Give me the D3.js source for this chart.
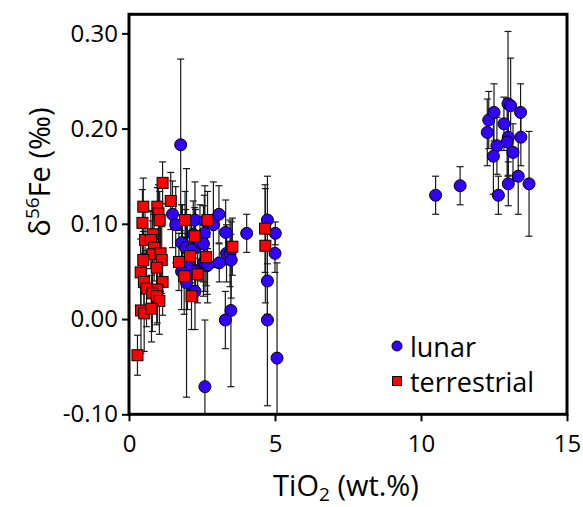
<!DOCTYPE html>
<html>
<head>
<meta charset="utf-8">
<script src="https://cdn.jsdelivr.net/npm/d3@7"></script>
<style>
  body { margin: 0; background: #fff; }
  text { font-family: "Open Sans", sans-serif; fill: #000; }
</style>
</head>
<body>
<script>
// lunar samples: TiO2 (wt.%), d56Fe, 2sd
var lunarTi = [10.5, 11.34, 12.65, 12.99, 13.33, 13.7, 12.27, 12.32, 12.5, 12.6, 12.48, 12.84, 12.98, 13.07, 12.99, 12.95, 13.15, 13.41, 13.42,
  1.77, 1.49, 1.6, 2.26, 2.6, 1.83, 2.2, 2.58, 2.28, 2.89, 3.08, 3.31, 4.03, 4.74, 5.01, 5.0, 2.43, 3.34, 3.46, 3.09, 3.5, 2.68, 2.55,
  4.74, 3.49, 3.3, 4.74, 5.07, 2.6, 1.8, 1.94, 2.14, 2.55, 1.8, 2.0, 2.26, 1.97, 2.26, 2.6, 2.69];
var lunarFe = [0.130, 0.140, 0.130, 0.142, 0.150, 0.142, 0.196, 0.209, 0.217, 0.182, 0.171, 0.205, 0.226, 0.224, 0.191, 0.186, 0.175, 0.217, 0.191,
  0.183, 0.110, 0.099, 0.104, 0.103, 0.080, 0.089, 0.090, 0.075, 0.099, 0.110, 0.091, 0.090, 0.104, 0.090, 0.069, 0.080, 0.069, 0.069, 0.059, 0.062, 0.056, 0.059,
  0.040, 0.009, -0.001, -0.001, -0.041, -0.071, 0.080, 0.075, 0.073, 0.079, 0.050, 0.055, 0.050, 0.038, 0.029, 0.059, 0.057];
var lunarErr = [0.020, 0.020, 0.020, 0.023, 0.040, 0.055, 0.035, 0.030, 0.030, 0.030, 0.040, 0.028, 0.076, 0.050, 0.040, 0.045, 0.030, 0.030, 0.030,
  0.090, 0.035, 0.040, 0.040, 0.037, 0.040, 0.035, 0.040, 0.040, 0.045, 0.030, 0.034, 0.020, 0.046, 0.012, 0.020, 0.040, 0.030, 0.035, 0.020, 0.040, 0.030, 0.035,
  0.035, 0.080, 0.030, 0.090, 0.100, 0.070, 0.040, 0.040, 0.035, 0.040, 0.040, 0.045, 0.030, 0.120, 0.040, 0.030, 0.040];

// terrestrial samples
var terrTi = [0.49, 0.46, 0.55, 0.81, 0.75, 0.97, 1.01, 1.05, 1.15, 1.43, 1.92, 2.25, 2.69, 0.86, 4.66, 3.54, 4.67, 2.64,
  0.8, 1.08, 1.12, 0.49, 0.95, 0.4, 0.51, 1.15, 0.6, 0.97, 0.8, 0.95, 1.04, 0.41, 0.52, 0.77, 0.29, 1.71, 2.09, 1.89, 2.35, 2.14];
var terrFe = [0.118, 0.101, 0.083, 0.089, 0.083, 0.118, 0.111, 0.104, 0.143, 0.124, 0.104, 0.087, 0.104, 0.075, 0.095, 0.076, 0.077, 0.065,
  0.068, 0.069, 0.062, 0.062, 0.054, 0.049, 0.039, 0.039, 0.032, 0.031, 0.027, 0.024, 0.019, 0.009, 0.006, 0.011, -0.038, 0.060, 0.066, 0.045, 0.047, 0.024];
var terrErr = [0.030, 0.035, 0.030, 0.025, 0.030, 0.020, 0.030, 0.030, 0.022, 0.030, 0.030, 0.030, 0.030, 0.035, 0.046, 0.030, 0.060, 0.030,
  0.035, 0.040, 0.035, 0.030, 0.035, 0.035, 0.030, 0.035, 0.040, 0.035, 0.040, 0.030, 0.035, 0.045, 0.040, 0.035, 0.021, 0.030, 0.035, 0.040, 0.030, 0.035];

var xTicks = [0, 5, 10, 15];
var yTicks = [-0.10, 0.00, 0.10, 0.20, 0.30];

var lunar = lunarTi.map(function(d, i) { return { x: d, y: lunarFe[i], e: lunarErr[i] } });
var terr = terrTi.map(function(d, i) { return { x: d, y: terrFe[i], e: terrErr[i] } });

var svg = d3.select("body").append("svg")
  .attr("width", 583)
  .attr("height", 507);

var x = d3.scaleLinear().domain([0, 15]).range([129, 567]);
var y = d3.scaleLinear().domain([-0.10, 0.32]).range([414.3, 14.3]);

// error bars first, markers on top
var all = lunar.concat(terr);
var bars = svg.append("g").attr("stroke", "#1a1a1a").attr("stroke-width", 1.2);
bars.selectAll("line.v").data(all).enter().append("line")
  .attr("x1", function(d) { return x(d.x) }).attr("x2", function(d) { return x(d.x) })
  .attr("y1", function(d) { return Math.max(y(d.y + d.e), y.range()[1]) })
  .attr("y2", function(d) { return Math.min(y(d.y - d.e), y.range()[0]) });
bars.selectAll("line.t").data(all.filter(function(d) { return d.y + d.e < 0.32 })).enter().append("line")
  .attr("x1", function(d) { return x(d.x) - 3.5 }).attr("x2", function(d) { return x(d.x) + 3.5 })
  .attr("y1", function(d) { return y(d.y + d.e) }).attr("y2", function(d) { return y(d.y + d.e) });
bars.selectAll("line.b").data(all.filter(function(d) { return d.y - d.e > -0.10 })).enter().append("line")
  .attr("x1", function(d) { return x(d.x) - 3.5 }).attr("x2", function(d) { return x(d.x) + 3.5 })
  .attr("y1", function(d) { return y(d.y - d.e) }).attr("y2", function(d) { return y(d.y - d.e) });

svg.append("g").selectAll("circle").data(lunar).enter().append("circle")
  .attr("cx", function(d) { return x(d.x) })
  .attr("cy", function(d) { return y(d.y) })
  .attr("r", 6)
  .style("fill", "#3300ff")
  .style("stroke", "#000")
  .style("stroke-width", 1);

svg.append("g").selectAll("rect").data(terr).enter().append("rect")
  .attr("x", function(d) { return x(d.x) - 5.5 })
  .attr("y", function(d) { return y(d.y) - 5.5 })
  .attr("width", 11).attr("height", 11)
  .style("fill", "#ff0000")
  .style("stroke", "#000")
  .style("stroke-width", 1);

// frame
svg.append("rect")
  .attr("x", x(0)).attr("y", y(0.32))
  .attr("width", x(15) - x(0)).attr("height", y(-0.10) - y(0.32))
  .attr("fill", "none").attr("stroke", "#000").attr("stroke-width", 3);

var xAxis = svg.append("g").attr("transform", "translate(0," + y(-0.10) + ")")
  .call(d3.axisBottom(x).tickValues(xTicks).tickSize(7).tickPadding(14).tickFormat(d3.format("d")));
var yAxis = svg.append("g").attr("transform", "translate(" + x(0) + ",0)")
  .call(d3.axisLeft(y).tickValues(yTicks).tickSize(7).tickPadding(4)
    .tickFormat(function(d) { return d.toFixed(2).replace("−", "-") }));
[xAxis, yAxis].forEach(function(a) {
  a.select(".domain").remove();
  a.selectAll(".tick line").attr("stroke", "#000").attr("stroke-width", 2);
  a.selectAll("text").style("font-family", "'Open Sans', sans-serif").style("font-size", "24px").attr("fill", "#000");
});

// axis titles
var xt = svg.append("text").attr("x", 346).attr("y", 496).attr("text-anchor", "middle").style("font-size", "29px");
xt.append("tspan").text("TiO");
xt.append("tspan").attr("dy", 5).style("font-size", "19px").text("2");
xt.append("tspan").attr("dy", -5).text(" (wt.%)");

var yt = svg.append("text").attr("transform", "translate(50,172) rotate(-90)").attr("text-anchor", "middle").style("font-size", "29px");
yt.append("tspan").text("δ");
yt.append("tspan").attr("dy", -11).style("font-size", "19px").text("56");
yt.append("tspan").attr("dy", 11).text("Fe (‰)");

// legend
svg.append("circle").attr("cx", 397).attr("cy", 346).attr("r", 5)
  .style("fill", "#3300ff").style("stroke", "#000").style("stroke-width", 1);
svg.append("rect").attr("x", 392.5).attr("y", 376.5).attr("width", 9).attr("height", 9)
  .style("fill", "#ff0000").style("stroke", "#000").style("stroke-width", 1);
svg.append("text").attr("x", 410).attr("y", 357).style("font-size", "27px").text("lunar");
svg.append("text").attr("x", 410).attr("y", 392).style("font-size", "27px").text("terrestrial");
</script>
</body>
</html>
